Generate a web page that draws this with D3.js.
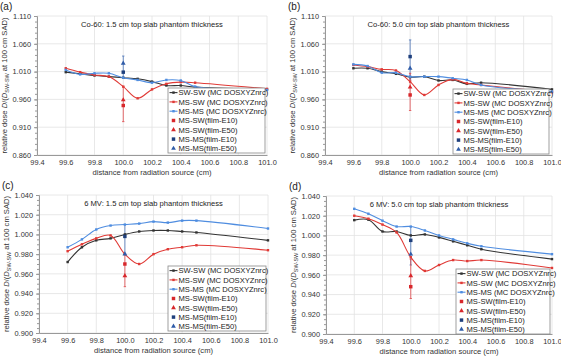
<!DOCTYPE html>
<html>
<head>
<meta charset="utf-8">
<script src="https://cdn.jsdelivr.net/npm/d3@7"></script>
<style>
  body { margin: 0; background: #fff; }
  svg { font-family: "Liberation Sans", Arial, sans-serif; }
</style>
</head>
<body>
<svg id="chart" width="561" height="358"></svg>
<script>
// distances along the beam (cm)
var distances = [99.6, 99.7, 99.8, 99.9, 100.0, 100.1, 100.2, 100.3, 100.4, 100.5, 101.0];
var xTicks = [99.4, 99.6, 99.8, 100.0, 100.2, 100.4, 100.6, 100.8, 101.0];

var seriesNames = ["SW-SW (MC DOSXYZnrc)", "MS-SW (MC DOSXYZnrc)", "MS-MS (MC DOSXYZnrc)",
                   "MS-SW(film-E10)", "MS-SW(film-E50)", "MS-MS(film-E10)", "MS-MS(film-E50)"];
var panelTags = ["(a)", "(b)", "(c)", "(d)"];
var panelTitles = ["Co-60: 1.5 cm top slab phantom thickness", "Co-60: 5.0 cm top slab phantom thickness",
                   "6 MV: 1.5 cm top slab phantom thickness", "6 MV: 5.0 cm top slab phantom thickness"];

// (a) Co-60, 1.5 cm
var swswA = [1.009, 1.006, 1.003, 1.001, 0.999, 0.997, 0.992, 0.985, 0.985, 0.982, 0.978];
var msswA = [1.016, 1.009, 1.004, 1.001, 0.983, 0.962, 0.978, 0.988, 0.991, 0.990, 0.979];
var msmsA = [1.013, 1.005, 1.007, 1.007, 0.999, 0.995, 0.990, 0.995, 0.994, 0.983, 0.977];
var filmA = [0.949, 0.959, 1.009, 1.025];          // MS-SW E10, E50, MS-MS E10, E50
var errA = [[0.920, 0.983], [0.999, 1.038]];        // red bar, blue bar

// (b) Co-60, 5.0 cm
var swswB = [1.016, 1.016, 1.010, 1.006, 1.000, 1.001, 0.994, 0.995, 0.988, 0.990, 0.978];
var msswB = [1.022, 1.019, 1.014, 1.012, 0.992, 0.968, 0.986, 0.996, 0.989, 0.986, 0.973];
var msmsB = [1.023, 1.020, 1.008, 1.008, 1.001, 1.001, 1.001, 0.998, 0.995, 0.986, 0.974];
var filmB = [0.968, 0.982, 1.037, 1.016];
var errB = [[0.940, 1.007], [0.995, 1.067]];

// (c) 6 MV, 1.5 cm
var swswC = [0.972, 0.987, 0.994, 0.996, 1.000, 1.003, 1.004, 1.004, 1.003, 1.002, 0.994];
var msswC = [0.983, 0.990, 0.996, 0.999, 0.980, 0.970, 0.980, 0.985, 0.987, 0.989, 0.984];
var msmsC = [0.987, 0.995, 1.005, 1.009, 1.010, 1.011, 1.013, 1.012, 1.014, 1.014, 1.006];
var filmC = [0.970, 0.958, 0.998, 0.980];
var errC = [[0.947, 0.980], [0.980, 1.010]];

// (d) 6 MV, 5.0 cm
var swswD = [1.0155, 1.016, 1.004, 1.004, 1.000, 1.001, 0.998, 0.994, 0.990, 0.986, 0.976];
var msswD = [1.020, 1.017, 1.011, 1.003, 0.978, 0.964, 0.970, 0.975, 0.974, 0.975, 0.967];
var msmsD = [1.027, 1.022, 1.015, 1.009, 1.009, 1.005, 1.000, 0.996, 0.992, 0.989, 0.981];
var filmD = [0.948, 0.959, 0.995, 0.981];
var errD = [[0.936, 0.976], [0.970, 1.009]];

var yTicksCo = [0.860, 0.910, 0.960, 1.010, 1.060, 1.110];
var yTicksMV = [0.900, 0.920, 0.940, 0.960, 0.980, 1.000, 1.020, 1.040];

var lineColors = ["#333333", "#e03a36", "#4f8de0"];
var filmColors = ["#d8272b", "#d8272b", "#1e3f7c", "#2f5ca8"];

var panels = [
  { box: [37, 267, 16, 155], y: [0.860, 1.110], ticks: yTicksCo, minor: 0.01, lines: [swswA, msswA, msmsA], film: filmA, err: errA, legend: [168, 88, 265] },
  { box: [325, 552, 16, 155], y: [0.860, 1.110], ticks: yTicksCo, minor: 0.01, lines: [swswB, msswB, msmsB], film: filmB, err: errB, legend: [453, 89, 549] },
  { box: [39, 268, 195, 333], y: [0.900, 1.040], ticks: yTicksMV, minor: 0.005, lines: [swswC, msswC, msmsC], film: filmC, err: errC, legend: [168, 266, 266] },
  { box: [326, 552, 196, 334], y: [0.900, 1.040], ticks: yTicksMV, minor: 0.005, lines: [swswD, msswD, msmsD], film: filmD, err: errD, legend: [456, 269, 550] }
];

var svg = d3.select("#chart");
var fs = 7.6;

panels.forEach(function(p, i) {
  var x = d3.scaleLinear().domain([99.4, 101.0]).range([p.box[0], p.box[1]]);
  var y = d3.scaleLinear().domain(p.y).range([p.box[3], p.box[2]]);
  var g = svg.append("g");

  // grid
  g.selectAll(".vg").data(xTicks).enter().append("line")
    .attr("x1", function(d) { return x(d); }).attr("x2", function(d) { return x(d); })
    .attr("y1", p.box[2]).attr("y2", p.box[3])
    .attr("stroke", "#e2e2e2").attr("stroke-width", 0.8);
  g.selectAll(".hg").data(p.ticks).enter().append("line")
    .attr("x1", p.box[0]).attr("x2", p.box[1])
    .attr("y1", function(d) { return y(d); }).attr("y2", function(d) { return y(d); })
    .attr("stroke", "#e2e2e2").attr("stroke-width", 0.8);

  // axes
  var minorTicks = d3.range(p.y[0], p.y[1] + 1e-9, p.minor);
  g.append("g").attr("transform", "translate(" + p.box[0] + ",0)")
    .call(d3.axisLeft(y).tickValues(minorTicks).tickSize(2).tickFormat(""))
    .call(function(a) { a.select(".domain").remove(); a.selectAll("line").attr("stroke", "#999"); });
  g.append("g").attr("transform", "translate(" + p.box[0] + ",0)")
    .call(d3.axisLeft(y).tickValues(p.ticks).tickSize(3).tickFormat(d3.format(".3f")))
    .call(function(a) {
      a.select(".domain").attr("stroke", "#999");
      a.selectAll("line").attr("stroke", "#999");
      a.selectAll("text").attr("font-size", 7.4).attr("fill", "#333").attr("font-family", "Liberation Sans, Arial, sans-serif");
    });
  g.append("g").attr("transform", "translate(0," + p.box[3] + ")")
    .call(d3.axisBottom(x).tickValues(xTicks).tickSize(0).tickPadding(5).tickFormat(d3.format(".1f")))
    .call(function(a) {
      a.select(".domain").attr("stroke", "#999");
      a.selectAll("text").attr("font-size", 7.4).attr("fill", "#333").attr("font-family", "Liberation Sans, Arial, sans-serif");
    });

  // labels
  var cx = (p.box[0] + p.box[1]) / 2;
  var cy = (p.box[2] + p.box[3]) / 2;
  g.append("text").attr("x", p.box[0] - 37).attr("y", p.box[2] - 6)
    .attr("font-size", 10).attr("fill", "#222").text(panelTags[i]);
  g.append("text").attr("x", cx).attr("y", p.box[2] + 11).attr("text-anchor", "middle")
    .attr("font-size", fs).attr("fill", "#222").text(panelTitles[i]);
  g.append("text").attr("x", cx).attr("y", p.box[3] + 20).attr("text-anchor", "middle")
    .attr("font-size", fs).attr("fill", "#333").text("distance from radiation source (cm)");
  var yl = g.append("text").attr("transform", "translate(" + (p.box[0] - 30) + "," + cy + ") rotate(-90)")
    .attr("text-anchor", "middle").attr("font-size", 7.6).attr("fill", "#333");
  yl.append("tspan").text("relative dose ");
  yl.append("tspan").attr("font-style", "italic").text("D");
  yl.append("tspan").text("/(");
  yl.append("tspan").attr("font-style", "italic").text("D");
  yl.append("tspan").attr("font-size", 5.5).attr("dy", 2).text("SW-SW");
  yl.append("tspan").attr("dy", -2).text(" at 100 cm SAD)");

  // MC lines
  var line = d3.line()
    .x(function(d, k) { return x(distances[k]); })
    .y(function(d) { return y(d); })
    .curve(d3.curveCatmullRom.alpha(0.5));
  var clip = "clip" + i;
  svg.append("clipPath").attr("id", clip).append("rect")
    .attr("x", p.box[0]).attr("y", p.box[2]).attr("width", p.box[1] - p.box[0] + 2).attr("height", p.box[3] - p.box[2]);

  // error bars
  var ex = x(100.0);
  [1, 0].forEach(function(k) {
    var e = p.err[k];
    var c = k === 0 ? "#e0474a" : "#4a74b8";
    g.append("line").attr("x1", ex).attr("x2", ex).attr("y1", y(e[0])).attr("y2", y(e[1]))
      .attr("stroke", c).attr("stroke-width", 0.8);
    e.forEach(function(v) {
      g.append("line").attr("x1", ex - 1.2).attr("x2", ex + 1.2).attr("y1", y(v)).attr("y2", y(v))
        .attr("stroke", c).attr("stroke-width", 0.8);
    });
  });

  p.lines.forEach(function(vals, k) {
    var lg = g.append("g").attr("clip-path", "url(#" + clip + ")");
    lg.append("path").datum(vals).attr("d", line)
      .attr("fill", "none").attr("stroke", lineColors[k]).attr("stroke-width", 1.1);
    lg.selectAll("rect").data(vals).enter().append("rect")
      .attr("x", function(d, j) { return x(distances[j]) - 1.2; })
      .attr("y", function(d) { return y(d) - 1.2; })
      .attr("width", 2.4).attr("height", 2.4).attr("fill", lineColors[k]);
  });

  // film points
  var sq = d3.symbol().type(d3.symbolSquare).size(12);
  var tri = d3.symbol().type(d3.symbolTriangle).size(10);
  p.film.forEach(function(v, k) {
    g.append("path").attr("d", k % 2 === 0 ? sq() : tri())
      .attr("transform", "translate(" + ex + "," + y(v) + ")")
      .attr("fill", filmColors[k]);
  });

  // legend
  var lx = p.legend[0], ly = p.legend[1];
  var lw = p.legend[2] - lx, lh = 65;
  var leg = g.append("g");
  leg.append("rect").attr("x", lx).attr("y", ly).attr("width", lw).attr("height", lh)
    .attr("fill", "#fff").attr("stroke", "#888").attr("stroke-width", 0.8);
  seriesNames.forEach(function(name, k) {
    var ry = ly + 4.6 + k * 9.3;
    if (k < 3) {
      leg.append("line").attr("x1", lx + 1.5).attr("x2", lx + 9.5).attr("y1", ry).attr("y2", ry)
        .attr("stroke", lineColors[k]).attr("stroke-width", 1.1);
      leg.append("rect").attr("x", lx + 4.3).attr("y", ry - 1.2).attr("width", 2.4).attr("height", 2.4)
        .attr("fill", lineColors[k]);
    } else {
      var f = k - 3;
      leg.append("path").attr("d", f % 2 === 0 ? sq() : tri())
        .attr("transform", "translate(" + (lx + 5.5) + "," + ry + ")")
        .attr("fill", filmColors[f]);
    }
    leg.append("text").attr("x", lx + 10.5).attr("y", ry + 2.7)
      .attr("font-size", fs).attr("fill", "#222").text(name);
  });
});
</script>
</body>
</html>
